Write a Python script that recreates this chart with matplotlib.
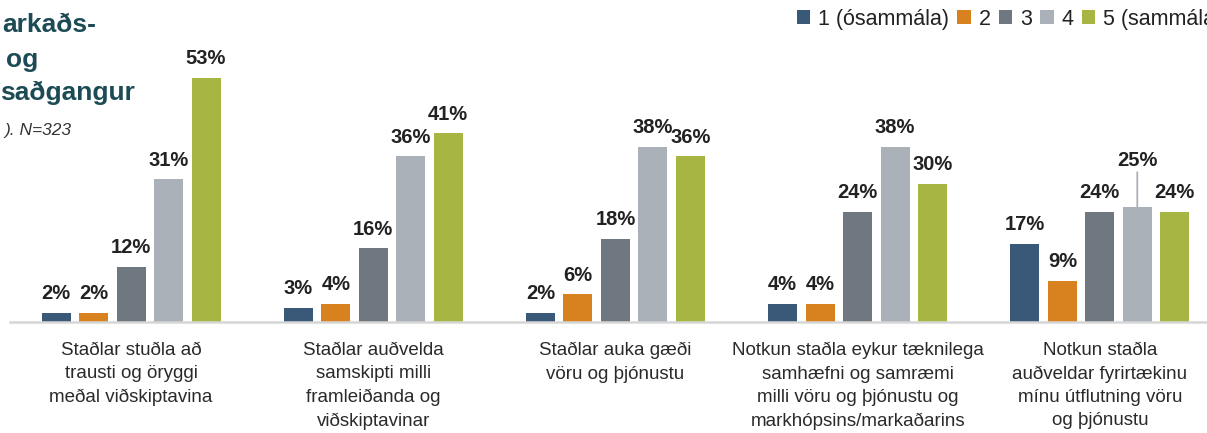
import matplotlib
matplotlib.use("Agg")
import matplotlib.pyplot as plt
import numpy as np

plt.rcParams['font.family'] = ['Liberation Sans', 'DejaVu Sans']

categories = [
    "Staðlar stuðla að\ntrausti og öryggi\nmeðal viðskiptavina",
    "Staðlar auðvelda\nsamskipti milli\nframleiðanda og\nviðskiptavinar",
    "Staðlar auka gæði\nvöru og þjónustu",
    "Notkun staðla eykur tæknilega\nsamhæfni og samræmi\nmilli vöru og þjónustu og\nmarkhópsins/markaðarins",
    "Notkun staðla\nauðveldar fyrirtækinu\nmínu útflutning vöru\nog þjónustu",
]
series_names = ["1 (ósammála)", "2", "3", "4", "5 (sammála)"]
s1 = [2, 3, 2, 4, 17]
s2 = [2, 4, 6, 4, 9]
s3 = [12, 16, 18, 24, 24]
s4 = [31, 36, 38, 38, 25]
s5 = [53, 41, 36, 30, 24]
series = [s1, s2, s3, s4, s5]
colors = ["#3a5877", "#d8821f", "#6f7780", "#aab1b8", "#a7b543"]

W, H = 1207, 433
fig = plt.figure(figsize=(W / 100, H / 100), dpi=100)
ax = fig.add_axes([10 / W, (H - 322) / H, (W - 10) / W, 276 / H])

x = np.arange(len(categories))
slot = 0.1548
bw = 0.1197
bars_all = []
for j, (vals, col, name) in enumerate(zip(series, colors, series_names)):
    bars = ax.bar(x + (j - 2) * slot, vals, width=bw, color=col, label=name, linewidth=0)
    bars_all.append(bars)
    labels = []
    for i, v in enumerate(vals):
        if i == 4 and j == 3:
            labels.append("")
        else:
            labels.append(f"{v}%")
    ax.bar_label(bars, labels=labels, padding=7, fontsize=14.5, fontweight='bold', color='#222222')

# leader-line label for the 25% bar
b = bars_all[3][4]
ax.annotate(f"{s4[4]}%", xy=(b.get_x() + b.get_width() / 2, b.get_height()),
            xytext=(0, 27), textcoords='offset points', ha='center', va='bottom',
            fontsize=14.5, fontweight='bold', color='#222222',
            arrowprops=dict(arrowstyle='-', color='#aab1b8', lw=1.3, shrinkA=0, shrinkB=0))

ax.set_xlim(-0.5, (W - 131) / 242.2)
ax.set_ylim(0, 60)
ax.set_yticks([])
ax.set_xticks(x)
ax.set_xticklabels(categories, fontsize=13.5, linespacing=1.48, color='#2a2a2a')
ax.tick_params(axis='x', length=0, pad=14.5)
for s in ['top', 'right', 'left']:
    ax.spines[s].set_visible(False)
ax.spines['bottom'].set_color('#d6d6d6')
ax.spines['bottom'].set_linewidth(1.8)
ax.set_facecolor('none')

fig.legend(handles=bars_all, labels=series_names, loc='upper left',
           bbox_to_anchor=(797 / W, 1 - 9 / H), ncol=5, frameon=False,
           fontsize=15.5, handlelength=0.62, handleheight=0.62,
           handletextpad=0.35, columnspacing=0.4, borderaxespad=0, borderpad=0,
           labelcolor='#222222')

title_color = '#1d4b55'
fig.text(2 / W, 1 - 32 / H, "arkaðs-", fontsize=19, fontweight='bold', color=title_color, va='baseline', ha='left')
fig.text(6 / W, 1 - 67 / H, "og", fontsize=19, fontweight='bold', color=title_color, va='baseline', ha='left')
fig.text(0 / W, 1 - 100 / H, "saðgangur", fontsize=19, fontweight='bold', color=title_color, va='baseline', ha='left')
fig.text(5 / W, 1 - 135 / H, "). N=323", fontsize=12.5, style='italic', color='#333333', va='baseline', ha='left')

fig.savefig("out.png", dpi=100)
